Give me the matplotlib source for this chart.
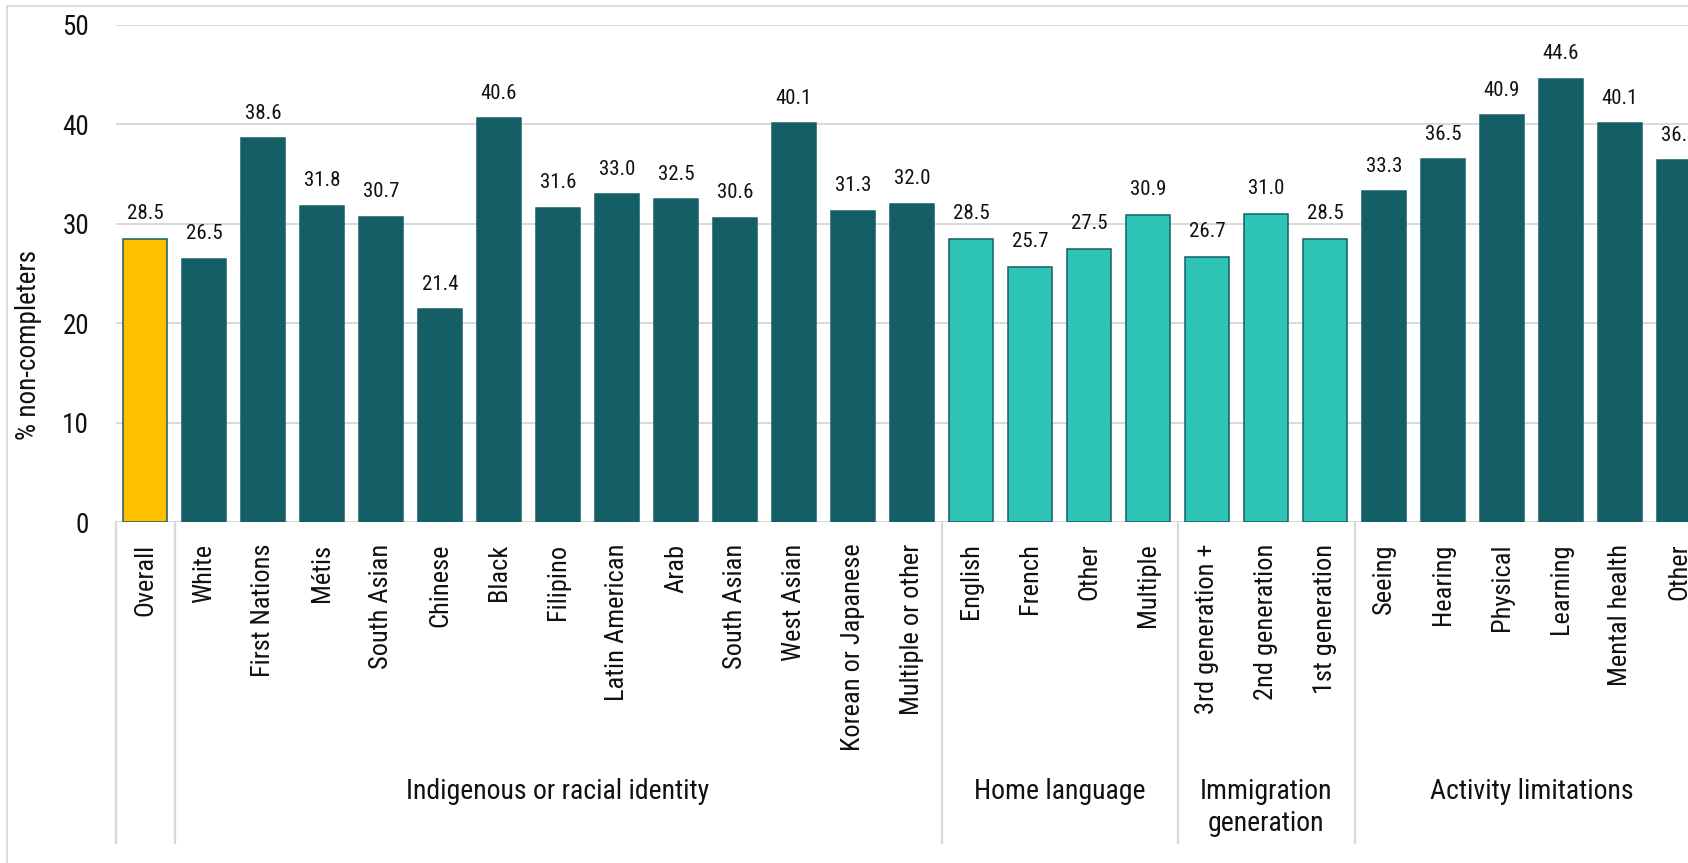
import matplotlib
matplotlib.use("Agg")
import matplotlib.pyplot as plt
from matplotlib import font_manager
from matplotlib.lines import Line2D
from matplotlib.patches import Rectangle

# narrow sans-serif, first one installed wins
names = {f.name for f in font_manager.fontManager.ttflist}
FONT = "Liberation Sans"
for cand in ["Liberation Sans Narrow", "Arial Narrow", "Roboto Condensed",
             "Pragati Narrow", "Archivo Narrow"]:
    if cand in names:
        FONT = cand
        break
plt.rcParams["font.family"] = [FONT, "DejaVu Sans"]

categories = ["Overall",
              "White", "First Nations", "Métis", "South Asian", "Chinese", "Black",
              "Filipino", "Latin American", "Arab", "South Asian", "West Asian",
              "Korean or Japanese", "Multiple or other",
              "English", "French", "Other", "Multiple",
              "3rd generation +", "2nd generation", "1st generation",
              "Seeing", "Hearing", "Physical", "Learning", "Mental health", "Other"]
values = [28.5,
          26.5, 38.6, 31.8, 30.7, 21.4, 40.6, 31.6, 33.0, 32.5, 30.6, 40.1, 31.3, 32.0,
          28.5, 25.7, 27.5, 30.9,
          26.7, 31.0, 28.5,
          33.3, 36.5, 40.9, 44.6, 40.1, 36.4]
# group name, first bar, last bar
groups = [("Indigenous or racial identity", 1, 13),
          ("Home language", 14, 17),
          ("Immigration\ngeneration", 18, 20),
          ("Activity limitations", 21, 26)]

DARK = "#145f65"
LIGHT = "#2ec5b6"
GOLD = "#ffc000"
GRID = "#d9d9d9"
INK = "#111111"

colors = [GOLD] + [DARK] * 13 + [LIGHT] * 7 + [DARK] * 6

W, H = 1688, 863
fig = plt.figure(figsize=(W / 100, H / 100), dpi=100)

pitch = 59.0
left_px, zero_px, top_px = 115.5, 522, 25
ax = fig.add_axes([left_px / W, 1 - zero_px / H,
                   len(categories) * pitch / W, (zero_px - top_px) / H])

x = list(range(len(categories)))
ax.bar(x, values, width=0.75, color=colors, edgecolor=DARK, linewidth=1.1, zorder=2)

for xi, v in zip(x, values):
    ax.annotate(f"{v:.1f}", (xi, v), xytext=(0, 14), textcoords="offset points",
                ha="center", va="baseline", fontsize=15, color=INK)

ax.set_xlim(-0.5, len(categories) - 0.5)
ax.set_ylim(0, 50)
ax.set_yticks(range(0, 51, 10))
ax.grid(axis="y", color=GRID, linewidth=1.4, zorder=0)
ax.set_axisbelow(True)
for s in ax.spines.values():
    s.set_visible(False)
ax.axhline(0, color=GRID, linewidth=1.4, zorder=1)

ax.tick_params(axis="y", length=0, pad=19, labelsize=19.5, labelcolor=INK)
ax.set_xticks(x)
ax.set_xticklabels(categories, rotation=90, fontsize=19, color=INK)
ax.tick_params(axis="x", length=0, pad=15.5)

# separators between groups, running down through the label area
sep_bottom = -(843 - zero_px) / (zero_px - top_px)
for sx in [-0.5, 0.5, 13.5, 17.5, 20.5, 26.5]:
    ax.add_line(Line2D([sx, sx], [0, sep_bottom], transform=ax.get_xaxis_transform(),
                       color=GRID, linewidth=1.6, clip_on=False))

label_top = -(778 - zero_px) / (zero_px - top_px)
for name, a, b in groups:
    ax.text((a + b) / 2, label_top, name, transform=ax.get_xaxis_transform(),
            ha="center", va="top", fontsize=20, color=INK,
            linespacing=1.25, multialignment="center")

fig.text(28 / W, 1 - 345 / H, "% non-completers", rotation=90,
         ha="center", va="center", fontsize=19.5, color=INK)

# light frame round the chart
fig.patches.append(Rectangle((7 / W, -0.02), 1.0, 1.02 - 6 / H, transform=fig.transFigure,
                             fill=False, edgecolor=GRID, linewidth=1.3))

fig.savefig("out.png", dpi=100, facecolor="white")
